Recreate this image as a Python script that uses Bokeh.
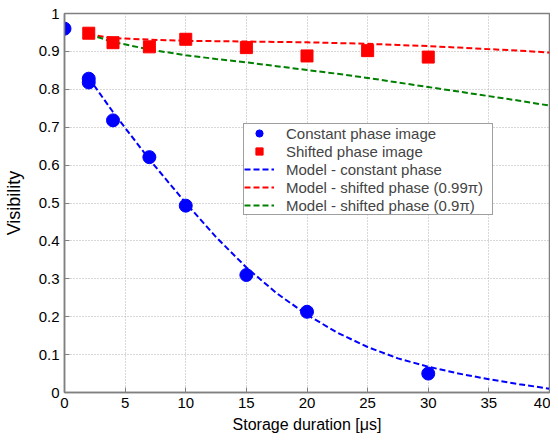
from bokeh.plotting import figure
from bokeh.models import Legend, LegendItem, FixedTicker, CustomJSTickFormatter, Range1d
from bokeh.embed import file_html
from bokeh.resources import INLINE

# Measured data
const_x = [0, 2, 2, 4, 7, 10, 15, 20, 30]
const_y = [0.96, 0.828, 0.818, 0.718, 0.621, 0.493, 0.310, 0.213, 0.050]

shift_x = [2, 4, 7, 10, 15, 20, 25, 30]
shift_y = [0.948, 0.923, 0.912, 0.932, 0.910, 0.888, 0.902, 0.885]

# Model curves
model_x = [2, 4, 7, 10, 12.5, 15, 17.5, 20, 22.5, 25, 27.5, 30, 32.5, 35, 37.5, 40]
model_const = [0.830, 0.740, 0.615, 0.500, 0.410, 0.330, 0.262, 0.205, 0.158, 0.120, 0.090, 0.068, 0.050, 0.035, 0.022, 0.010]
model_shift99 = [0.945, 0.935, 0.931, 0.928, 0.927, 0.926, 0.925, 0.924, 0.922, 0.920, 0.917, 0.914, 0.910, 0.906, 0.902, 0.897]
model_shift90 = [0.945, 0.925, 0.905, 0.890, 0.880, 0.871, 0.861, 0.851, 0.841, 0.830, 0.818, 0.806, 0.794, 0.782, 0.770, 0.757]

x_ticks = [0, 5, 10, 15, 20, 25, 30, 35, 40]
y_ticks = [0, 0.1, 0.2, 0.3, 0.4, 0.5, 0.6, 0.7, 0.8, 0.9, 1.0]

FONT = "Liberation Sans"

p = figure(width=550, height=435, output_backend="svg", toolbar_location=None,
           x_range=Range1d(0, 40), y_range=Range1d(0, 1),
           min_border_left=63, min_border_right=1, min_border_top=13, min_border_bottom=43)

p.outline_line_color = "#808080"
p.outline_line_width = 1.5
p.background_fill_color = "white"
p.border_fill_color = "white"

for ax in (p.xaxis[0], p.yaxis[0]):
    ax.axis_line_color = "#808080"
    ax.axis_line_width = 1.5
    ax.major_tick_in = 5
    ax.major_tick_out = 0
    ax.minor_tick_line_color = None
    ax.major_tick_line_color = "#808080"
    ax.major_label_text_font = FONT
    ax.major_label_text_font_size = "15px"
    ax.major_label_text_color = "black"
    ax.axis_label_text_font = FONT
    ax.axis_label_text_font_style = "normal"
    ax.axis_label_text_color = "black"

p.xaxis.ticker = FixedTicker(ticks=x_ticks)
p.yaxis.ticker = FixedTicker(ticks=y_ticks)
p.yaxis.formatter = CustomJSTickFormatter(code="return Number(tick.toFixed(1)).toString();")
p.xaxis.formatter = CustomJSTickFormatter(code="return Number(tick.toFixed(0)).toString();")
p.xaxis.axis_label = "Storage duration [\u03bcs]"
p.yaxis.axis_label = "Visibility"
p.xaxis.axis_label_text_font_size = "16px"
p.yaxis.axis_label_text_font_size = "18px"
p.xaxis.major_label_standoff = 5
p.yaxis.major_label_standoff = 5
p.xaxis.axis_label_standoff = 5
p.yaxis.axis_label_standoff = 12

p.grid.grid_line_color = "#b0b0b0"
p.grid.grid_line_dash = "1 2"
p.grid.grid_line_width = 1

l1 = p.line(model_x, model_const, line_color="#0000ff", line_width=2, line_dash="6 3")
l2 = p.line(model_x, model_shift99, line_color="#ff0000", line_width=2, line_dash="6 3")
l3 = p.line(model_x, model_shift90, line_color="#008000", line_width=2, line_dash="6 3")
c = p.scatter(const_x, const_y, marker="circle", size=13, fill_color="#0000ff", line_color="#0000ff")
s = p.scatter(shift_x, shift_y, marker="square", size=12, fill_color="#ff0000", line_color="#ff0000")

legend = Legend(items=[
    LegendItem(label="Constant phase image", renderers=[c]),
    LegendItem(label="Shifted phase image", renderers=[s]),
    LegendItem(label="Model - constant phase", renderers=[l1]),
    LegendItem(label="Model - shifted phase (0.99\u03c0)", renderers=[l2]),
    LegendItem(label="Model - shifted phase (0.9\u03c0)", renderers=[l3]),
], location=(179, 177))
legend.label_text_font = FONT
legend.label_text_font_size = "15px"
legend.label_height = 18
legend.glyph_height = 18
legend.glyph_width = 30
legend.label_width = 206
legend.spacing = 0
legend.padding = 0
legend.margin = 0
legend.label_standoff = 12
legend.border_line_color = "#404040"
legend.border_line_width = 1
legend.background_fill_alpha = 1
p.add_layout(legend, "center")

open("out.html", "w").write(file_html(p, INLINE))
